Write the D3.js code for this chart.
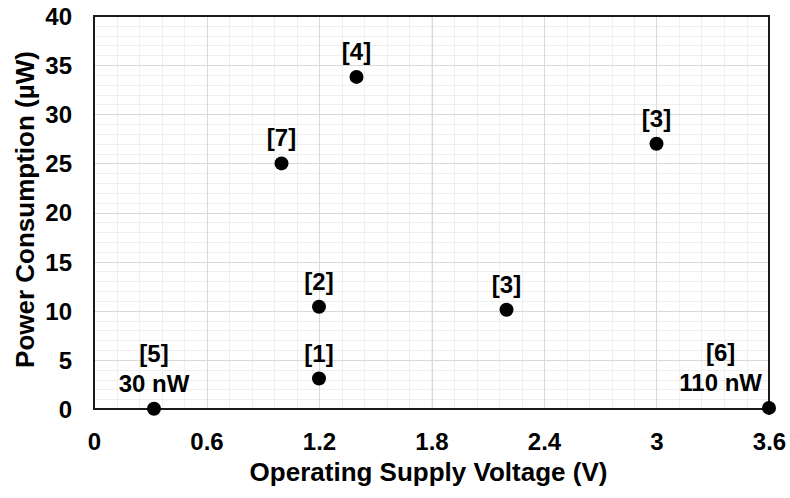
<!DOCTYPE html>
<html>
<head>
<meta charset="utf-8">
<script src="https://cdn.jsdelivr.net/npm/d3@7/dist/d3.min.js"></script>
<style>
  html, body { margin: 0; padding: 0; background: #fff; }
  svg { display: block; }
  text { font-family: "Liberation Sans", Arial, sans-serif; font-weight: bold; fill: #000; }
</style>
</head>
<body>
<svg id="chart" width="790" height="498"></svg>
<script>
// ---- data ----
const voltages = [1.2, 1.2, 2.2, 3.0, 1.4, 0.32, 3.6, 1.0];
const powers   = [3.1, 10.4, 10.1, 27.0, 33.8, 0.03, 0.11, 25.0];
const refLabels = ["[1]", "[2]", "[3]", "[3]", "[4]", "[5]", "[6]", "[7]"];
const subLabels = ["", "", "", "", "", "30 nW", "110 nW", ""];
const xTicks = [0, 0.6, 1.2, 1.8, 2.4, 3.0, 3.6];
const xTickLabels = ["0", "0.6", "1.2", "1.8", "2.4", "3", "3.6"];
const yTicks = [0, 5, 10, 15, 20, 25, 30, 35, 40];
const xTitle = "Operating Supply Voltage (V)";
const yTitle = "Power Consumption (µW)";

// ---- layout ----
const W = 790, H = 498;
const L = 94, R = 769, T = 16, B = 409;
const svg = d3.select("#chart");

const x = d3.scaleLinear().domain([0, 3.6]).range([L, R]);
const y = d3.scaleLinear().domain([0, 40]).range([B, T]);

// minor grid
const xMinor = d3.range(0, 3.6001, 0.12);
const yMinor = d3.range(0, 40.001, 1);
const grid = svg.append("g");
grid.selectAll(".xm").data(xMinor).join("line")
  .attr("x1", d => Math.round(x(d)) + 0.5).attr("x2", d => Math.round(x(d)) + 0.5)
  .attr("y1", T).attr("y2", B).attr("stroke", "#efefef").attr("stroke-width", 1);
grid.selectAll(".ym").data(yMinor).join("line")
  .attr("y1", d => Math.round(y(d)) + 0.5).attr("y2", d => Math.round(y(d)) + 0.5)
  .attr("x1", L).attr("x2", R).attr("stroke", "#efefef").attr("stroke-width", 1);
// major grid
grid.selectAll(".xM").data(xTicks).join("line")
  .attr("x1", d => Math.round(x(d)) + 0.5).attr("x2", d => Math.round(x(d)) + 0.5)
  .attr("y1", T).attr("y2", B).attr("stroke", "#d9d9d9").attr("stroke-width", 1);
grid.selectAll(".yM").data(yTicks).join("line")
  .attr("y1", d => Math.round(y(d)) + 0.5).attr("y2", d => Math.round(y(d)) + 0.5)
  .attr("x1", L).attr("x2", R).attr("stroke", "#d9d9d9").attr("stroke-width", 1);

// border box
svg.append("rect").attr("x", L).attr("y", T).attr("width", R - L).attr("height", B - T)
  .attr("fill", "none").attr("stroke", "#1a1a1a").attr("stroke-width", 2);

// axes
const xAxis = d3.axisBottom(x).tickValues(xTicks).tickSize(0)
  .tickFormat((d, i) => xTickLabels[i]);
const gx = svg.append("g").attr("transform", `translate(0,${B})`).call(xAxis);
gx.select(".domain").remove();
gx.selectAll("text").attr("y", 41).attr("dy", 0)
  .style("font-size", "24px").style("font-family", "'Liberation Sans', Arial, sans-serif")
  .style("font-weight", "bold").attr("fill", "#000");

const yAxis = d3.axisLeft(y).tickValues(yTicks).tickSize(0).tickFormat(d3.format("d"));
const gy = svg.append("g").attr("transform", `translate(${L},0)`).call(yAxis);
gy.select(".domain").remove();
gy.selectAll("text").attr("x", -22).attr("dy", "0.35em")
  .style("font-size", "24px").style("font-family", "'Liberation Sans', Arial, sans-serif")
  .style("font-weight", "bold").attr("fill", "#000");

// axis titles
svg.append("text").attr("x", (L + R) / 2 - 3).attr("y", 481)
  .attr("text-anchor", "middle").style("font-size", "26px").text(xTitle);
svg.append("text").attr("transform", `translate(34,${(T + B) / 2 - 3}) rotate(-90)`)
  .attr("text-anchor", "middle").style("font-size", "26px").text(yTitle);

// points
const pts = voltages.map((v, i) => ({ v, p: powers[i], lab: refLabels[i], sub: subLabels[i] }));
svg.append("g").selectAll("circle").data(pts).join("circle")
  .attr("cx", d => x(d.v)).attr("cy", d => y(d.p)).attr("r", 7).attr("fill", "#000");

// data labels
const lg = svg.append("g");
pts.forEach(d => {
  const cx = x(d.v), cy = y(d.p);
  const lines = d.sub ? [d.lab, d.sub] : [d.lab];
  const g = lg.append("g");
  const texts = lines.map((t, k) => g.append("text")
    .attr("text-anchor", "middle")
    .attr("y", cy - 17 - (lines.length - 1 - k) * 30)
    .style("font-size", "24px").text(t));
  const wmax = d3.max(texts, t => t.node().getComputedTextLength());
  let tx = cx;
  if (tx + wmax / 2 > R - 7) tx = R - 7 - wmax / 2;
  texts.forEach(t => t.attr("x", tx));
});
</script>
</body>
</html>
